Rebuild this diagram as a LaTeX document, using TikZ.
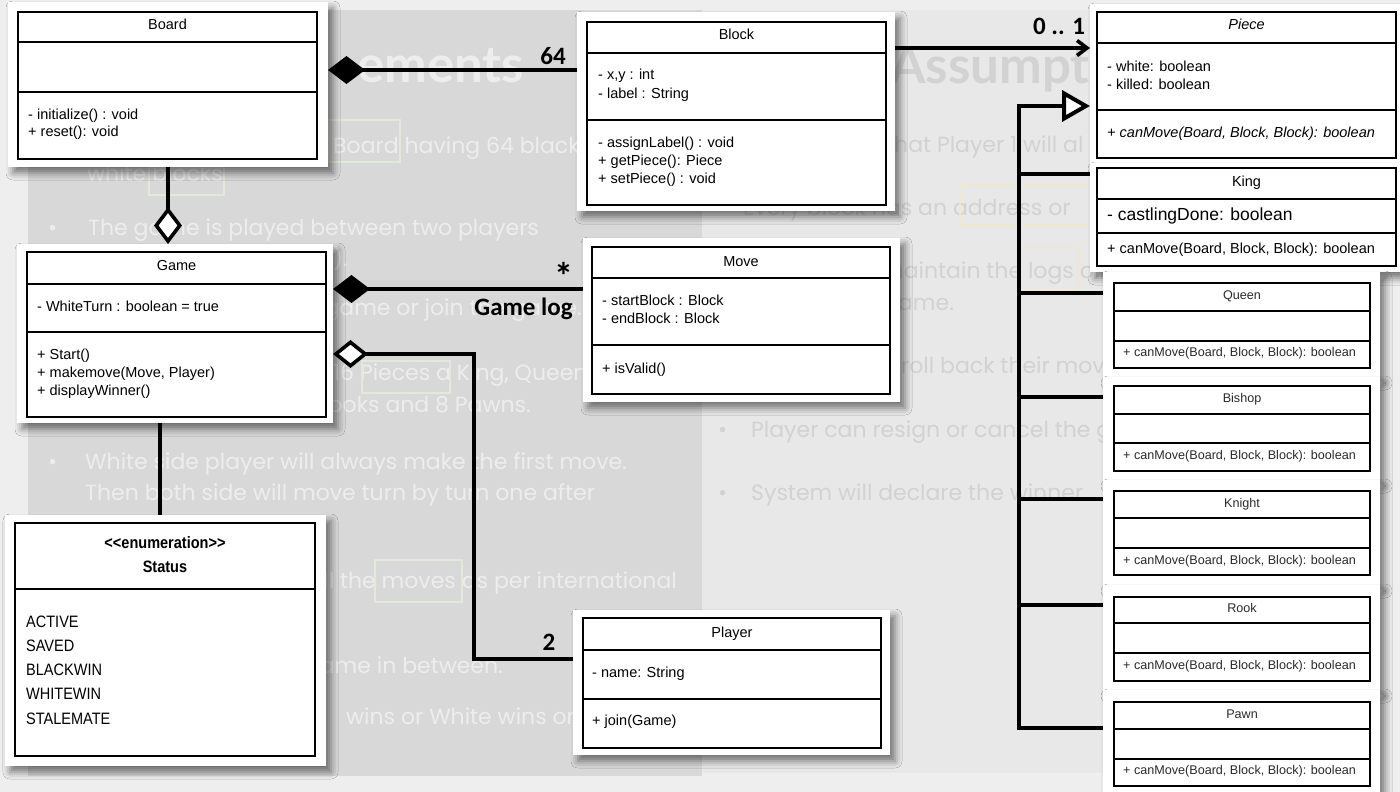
\documentclass[tikz,border=0pt]{standalone}
\usepackage{fontspec}
\setmainfont{Liberation Sans}
\newfontfamily\slidefont{Poppins}
\newfontfamily\headfont{Lato}
\newfontfamily\labelfont{Carlito}
\newfontfamily\narrowfont[FakeStretch=0.88]{Liberation Sans}
\usetikzlibrary{arrows.meta,shadows.blur}
\definecolor{outerbg}{HTML}{EEEEEE}
\definecolor{leftbg}{HTML}{D8D8D8}
\definecolor{rightbg}{HTML}{E8E8E8}
\definecolor{lefttxt}{HTML}{EDEDED}
\definecolor{righttxt}{HTML}{D2D2D2}
\definecolor{leftmark}{HTML}{E3E9DA}
\definecolor{rightmark}{HTML}{EEE7D4}
\definecolor{smalltxt}{HTML}{2A2A2A}
\tikzset{
  card/.style={fill=white, inner sep=0pt, outer sep=0pt,
    blur shadow={shadow xshift=5pt, shadow yshift=-6pt, shadow blur radius=7pt, shadow opacity=50}},
  clsbox/.style={draw=black, line width=1.8pt, inner sep=0pt, outer sep=0pt},
  cline/.style={line width=1.6pt},
  ctx/.style={inner sep=0pt, anchor=base west, font=\fontsize{14.5}{17}\selectfont},
  ctitle/.style={inner sep=0pt, anchor=base, font=\fontsize{14.5}{17}\selectfont},
  stx/.style={inner sep=0pt, anchor=base west, text=smalltxt, font=\fontsize{12.6}{15}\selectfont},
  stitle/.style={inner sep=0pt, anchor=base, text=smalltxt, font=\fontsize{12.6}{15}\selectfont},
  enumtx/.style={inner sep=0pt, anchor=base west, font=\narrowfont\fontsize{16.5}{20}\selectfont},
  enumtitle/.style={inner sep=0pt, anchor=base, font=\narrowfont\bfseries\fontsize{16.5}{20}\selectfont},
  ltx/.style={inner sep=0pt, anchor=base west, text=lefttxt, font=\slidefont\fontsize{22}{26}\selectfont},
  rtx/.style={inner sep=0pt, anchor=base west, text=righttxt, font=\slidefont\fontsize{22}{26}\selectfont},
  headtx/.style={inner sep=0pt, anchor=base west, font=\headfont\bfseries\fontsize{51}{58}\selectfont},
  lbl/.style={inner sep=0pt, anchor=base, font=\labelfont\bfseries\fontsize{25}{30}\selectfont},
  conn/.style={line width=3.6pt, draw=black},
  inh/.style={line width=4pt, draw=black},
  fullD/.style={{Diamond[length=37pt,width=28pt]}-},
  hollowD/.style={{Diamond[fill=white,length=35pt,width=28pt]}-},
}
\newcommand\umlcard[5]{\node[card, minimum width={#4-#2}, minimum height={#5-#3}] (#1) at ({(#2+#4)/2},{(#3+#5)/2}) {};}
\newcommand\umlbox[8][]{%
  \node[clsbox,#1, minimum width={#5-#3}, minimum height={#6-#4}] (#2) at ({(#3+#5)/2},{(#4+#6)/2}) {};
  \draw[cline,#1] (#3,#7) -- (#5,#7);
  \draw[cline,#1] (#3,#8) -- (#5,#8);}
\begin{document}
\begin{tikzpicture}[x=1pt,y=-1pt]
\useasboundingbox (0,0) rectangle (1400,792);
% ---------- slide backgrounds ----------
\fill[outerbg] (0,0) rectangle (1400,792);
\fill[leftbg] (28,10) rectangle (702,776);
\fill[rightbg] (702,10) rectangle (1120,773);
% ---------- faded slide text (left) ----------
\node[headtx, text=lefttxt] (hl) at (357,82) {ements};
\node[ltx] (s1) at (333,153) {Board having 64 black};
\node[ltx] (s2) at (87,181) {white blocks};
\node[ltx] (b1) at (48,235) {•};
\node[ltx] (s3) at (88,235) {The game is played between two players};
\node[ltx, anchor=base east] (s4) at (348,266) {side).};
\node[ltx, anchor=base east] (s5) at (582,315) {game or join the game.};
\node[ltx] (s6) at (333,380) {16 Pieces a King, Queen};
\node[ltx, anchor=base east] (s7) at (531,412) {2 Rooks and 8 Pawns.};
\node[ltx] (b2) at (48,469) {•};
\node[ltx] (s8) at (85,469) {White side player will always make the first move.};
\node[ltx] (s9) at (85,500) {Then both side will move turn by turn one after};
\node[ltx, anchor=base east] (s10) at (677,588) {all the moves as per international};
\node[ltx, anchor=base east] (s11) at (503,673) {the game in between.};
\node[ltx] (s12) at (346,724) {wins or White wins or};
\draw[leftmark, line width=1.2pt] (329,120) rectangle (400,162);
\draw[leftmark, line width=1.2pt] (149,167) rectangle (224,195);
\draw[leftmark, line width=1.2pt] (362,361) rectangle (450,393);
\draw[leftmark, line width=1.2pt] (375,560) rectangle (462,602);
% ---------- faded slide text (right) ----------
\node[headtx, text=righttxt] (hr) at (890,83) {Assumpt};
\node[rtx] (r1) at (886,152) {that Player 1 will al};
\node[rtx] (r2) at (743,215) {Every block has an address or};
\node[rtx] (r3) at (881,278) {maintain the logs of};
\node[rtx] (r4) at (883,310) {game.};
\node[rtx] (r5) at (901,373) {roll back their moves};
\node[rtx] (b3) at (718,437) {•};
\node[rtx] (r6) at (751,437) {Player can resign or cancel the game.};
\node[rtx] (b4) at (718,500) {•};
\node[rtx] (r7) at (751,500) {System will declare the winner.};
\draw[rightmark, line width=1.2pt] (960,185) rectangle (1100,225);
\draw[rightmark, line width=1.2pt] (1020,247) rectangle (1078,290);
% ---------- cards ----------
\umlcard{boardcard}{8}{2}{328}{167}
\umlcard{blockcard}{577}{12}{895}{211}
\umlcard{gamecard}{17}{244}{333}{423}
\umlcard{movecard}{583}{238}{900}{402}
\umlcard{statuscard}{5}{515}{326}{766}
\umlcard{playercard}{573}{610}{890}{755}
\umlcard{piececard}{1090}{4}{1400}{163}
\umlcard{kingcard}{1090}{163}{1400}{272}
\umlcard{queencard}{1103}{272}{1380}{377}
\umlcard{bishopcard}{1103}{377}{1380}{480}
\umlcard{knightcard}{1103}{480}{1380}{585}
\umlcard{rookcard}{1103}{585}{1380}{690}
\umlcard{pawncard}{1103}{690}{1380}{796}
% ---------- class boxes ----------
\umlbox{board}{18}{12}{317}{159}{42}{92}
\node[ctitle] (boardt) at (167.5,30) {Board};
\node[ctx] (boardm1) at (28,119) {- initialize() : void};
\node[ctx] (boardm2) at (28,136) {+ reset(): void};

\umlbox{block}{587}{22}{886}{205}{53}{120}
\node[ctitle] (blockt) at (736.5,40) {Block};
\node[ctx] (blocka1) at (598,80) {- x,y : int};
\node[ctx] (blocka2) at (598,98) {- label : String};
\node[ctx] (blockm1) at (598,147) {- assignLabel() : void};
\node[ctx] (blockm2) at (598,165) {+ getPiece(): Piece};
\node[ctx] (blockm3) at (598,183) {+ setPiece() : void};

\umlbox{game}{27}{252}{326}{417}{284}{332}
\node[ctitle] (gamet) at (176.5,270) {Game};
\node[ctx] (gamea1) at (37,311) {- WhiteTurn : boolean = true};
\node[ctx] (gamem1) at (37,359) {+ Start()};
\node[ctx] (gamem2) at (37,377) {+ makemove(Move, Player)};
\node[ctx] (gamem3) at (37,395) {+ displayWinner()};

\umlbox{move}{592}{247}{890}{394}{278}{345}
\node[ctitle] (movet) at (741,266) {Move};
\node[ctx] (movea1) at (602,305) {- startBlock : Block};
\node[ctx] (movea2) at (602,323) {- endBlock : Block};
\node[ctx] (movem1) at (602,373) {+ isValid()};

\node[clsbox, minimum width=300, minimum height=233] (status) at (165,639.5) {};
\draw[cline] (15,589) -- (315,589);
\node[enumtitle] (statust1) at (165,548) {<\kern0pt<enumeration>\kern0pt>};
\node[enumtitle] (statust2) at (165,572) {Status};
\node[enumtx] (st1) at (26,627) {ACTIVE};
\node[enumtx] (st2) at (26,651) {SAVED};
\node[enumtx] (st3) at (26,675) {BLACKWIN};
\node[enumtx] (st4) at (26,699) {WHITEWIN};
\node[enumtx] (st5) at (26,724) {STALEMATE};

\umlbox{player}{583}{618}{881}{748}{650}{699}
\node[ctitle] (playert) at (732,637) {Player};
\node[ctx] (playera1) at (592,677) {- name: String};
\node[ctx] (playerm1) at (592,725) {+ join(Game)};

\umlbox{piece}{1097}{12}{1396}{158}{43}{110}
\node[ctitle, font=\itshape\fontsize{14.5}{17}\selectfont] (piecet) at (1246.5,30) {Piece};
\node[ctx] (piecea1) at (1107,71) {- white: boolean};
\node[ctx] (piecea2) at (1107,89) {- killed: boolean};
\node[ctx, font=\itshape\fontsize{14.5}{17}\selectfont] (piecem1) at (1107,137) {+ canMove(Board, Block, Block): boolean};

\umlbox{king}{1097}{168}{1396}{266}{199}{233}
\node[ctitle] (kingt) at (1246.5,186) {King};
\node[ctx, font=\fontsize{17.5}{20}\selectfont] (kinga1) at (1107,220) {- castlingDone: boolean};
\node[ctx] (kingm1) at (1107,253) {+ canMove(Board, Block, Block): boolean};

\umlbox[line width=1.5pt]{queen}{1114}{283}{1370}{368}{311}{341}
\node[stitle] (queent) at (1242,299.5) {Queen};
\node[stx] (queenm) at (1123,356.5) {+ canMove(Board, Block, Block): boolean};
\umlbox[line width=1.5pt]{bishop}{1114}{386}{1370}{471}{414}{443}
\node[stitle] (bishopt) at (1242,402.5) {Bishop};
\node[stx] (bishopm) at (1123,459.5) {+ canMove(Board, Block, Block): boolean};
\umlbox[line width=1.5pt]{knight}{1114}{491}{1370}{575}{518}{548}
\node[stitle] (knightt) at (1242,507.5) {Knight};
\node[stx] (knightm) at (1123,564.5) {+ canMove(Board, Block, Block): boolean};
\umlbox[line width=1.5pt]{rook}{1114}{597}{1370}{681}{623}{653}
\node[stitle] (rookt) at (1242,612.5) {Rook};
\node[stx] (rookm) at (1123,669.5) {+ canMove(Board, Block, Block): boolean};
\umlbox[line width=1.5pt]{pawn}{1114}{702}{1370}{786}{729}{759}
\node[stitle] (pawnt) at (1242,718.5) {Pawn};
\node[stx] (pawnm) at (1123,774.5) {+ canMove(Board, Block, Block): boolean};
% ---------- connector coordinates ----------
\coordinate (y64) at (0,70);
\coordinate (ylog) at (0,289);
\coordinate (yply) at (0,354);
\coordinate (yplb) at (0,659);
\coordinate (xbend) at (474,0);
\coordinate (xstat) at (160,0);
\coordinate (yarr) at (0,48);
\coordinate (trunktop) at (1019,106);
\coordinate (trunkbot) at (1019,728);
\coordinate (bking) at (1019,174);
\coordinate (bqueen) at (1019,293);
\coordinate (bbishop) at (1019,397);
\coordinate (bknight) at (1019,499);
\coordinate (brook) at (1019,605);
% ---------- connectors ----------
\draw[conn, fullD] (boardcard.east |- y64) -- (blockcard.west |- y64);
\draw[conn, -{Diamond[fill=white,length=37pt,width=28pt]}] (boardcard.south) -- (boardcard.south |- gamecard.north);
\draw[conn, fullD] (gamecard.east |- ylog) -- (movecard.west |- ylog);
\draw[conn, hollowD] (gamecard.east |- yply) -- (xbend |- yply) -- (xbend |- yplb) -- (playercard.west |- yplb);
\draw[conn] (gamecard.south -| xstat) -- (statuscard.north -| xstat);
\draw[conn, -{Straight Barb[length=10pt,width=15pt]}] (blockcard.east |- yarr) -- (piececard.west |- yarr);
\draw[inh, -{Triangle[fill=white,length=28pt,width=31pt]}] (pawncard.west |- trunkbot) -- (trunkbot) -- (trunktop) -- (piececard.west |- trunktop);
\draw[inh] (bking) -- (kingcard.west |- bking);
\draw[inh] (bqueen) -- (queencard.west |- bqueen);
\draw[inh] (bbishop) -- (bishopcard.west |- bbishop);
\draw[inh] (bknight) -- (knightcard.west |- bknight);
\draw[inh] (brook) -- (rookcard.west |- brook);
% ---------- labels ----------
\node[lbl] (l64) at (553,64) {64};
\node[lbl, font=\labelfont\bfseries\fontsize{38}{40}\selectfont] (lstar) at (564,289) {*};
\node[lbl] (llog) at (523.5,315) {Game log};
\node[lbl] (l2) at (549,650) {2};
\node[lbl] (l01) at (1059,35) {0 .. 1};
\end{tikzpicture}
\end{document}
